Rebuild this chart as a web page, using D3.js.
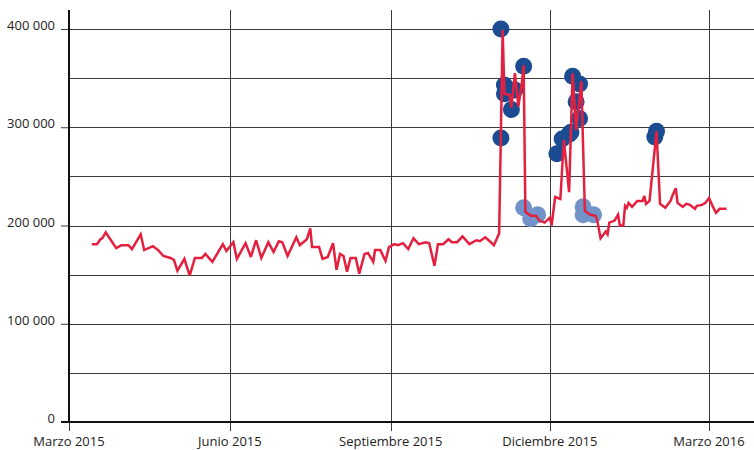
<!DOCTYPE html>
<html>
<head>
<meta charset="utf-8">
<script src="https://cdn.jsdelivr.net/npm/d3@7"></script>
<style>
  body { margin: 0; background: #fff; }
  svg { display: block; }
  .lbl { font-family: "Open Sans", sans-serif; font-size: 13px; fill: #222; }
</style>
</head>
<body>
<script>
// serie principal (fecha, valor)
const dates = ["2015-03-14","2015-03-17","2015-03-19","2015-03-20","2015-03-22","2015-03-25","2015-03-28","2015-03-31",
  "2015-04-04","2015-04-06","2015-04-11","2015-04-13","2015-04-18","2015-04-21","2015-04-24","2015-04-28","2015-04-30",
  "2015-05-02","2015-05-06","2015-05-09","2015-05-12","2015-05-16","2015-05-18","2015-05-22","2015-05-28","2015-05-30",
  "2015-06-03","2015-06-05","2015-06-10","2015-06-13","2015-06-16","2015-06-19","2015-06-23","2015-06-26","2015-06-29",
  "2015-07-01","2015-07-04","2015-07-09","2015-07-11","2015-07-15","2015-07-17","2015-07-18","2015-07-22","2015-07-24",
  "2015-07-27","2015-07-30","2015-08-01","2015-08-03","2015-08-05","2015-08-07","2015-08-09","2015-08-12","2015-08-14",
  "2015-08-17","2015-08-19","2015-08-22","2015-08-23","2015-08-26","2015-08-29","2015-08-31","2015-09-03","2015-09-05",
  "2015-09-08","2015-09-11","2015-09-14","2015-09-17","2015-09-21","2015-09-23","2015-09-26","2015-09-28","2015-10-01",
  "2015-10-04","2015-10-06","2015-10-09","2015-10-12","2015-10-16","2015-10-20","2015-10-22","2015-10-25","2015-10-27",
  "2015-10-30","2015-11-02","2015-11-04","2015-11-05","2015-11-08","2015-11-09","2015-11-11","2015-11-13","2015-11-15",
  "2015-11-16","2015-11-17","2015-11-20","2015-11-23","2015-11-25","2015-11-28","2015-12-01","2015-12-02","2015-12-04",
  "2015-12-07","2015-12-09","2015-12-12","2015-12-14","2015-12-16","2015-12-19","2015-12-21","2015-12-24","2015-12-27",
  "2015-12-28","2015-12-30","2016-01-02","2016-01-03","2016-01-04","2016-01-07","2016-01-09","2016-01-10","2016-01-12",
  "2016-01-13","2016-01-14","2016-01-15","2016-01-17","2016-01-20","2016-01-23","2016-01-24","2016-01-25","2016-01-27",
  "2016-01-31","2016-02-02","2016-02-05","2016-02-08","2016-02-09","2016-02-11","2016-02-12","2016-02-15","2016-02-17",
  "2016-02-19","2016-02-22","2016-02-23","2016-02-26","2016-02-28","2016-03-01","2016-03-03","2016-03-05","2016-03-07",
  "2016-03-11"];
const values = [181000,181000,186000,187000,193000,185000,177000,180000,
  180000,176000,191000,175000,179000,175000,169000,167000,165000,
  154000,166000,149000,167000,167000,171000,163000,181000,174000,
  183000,166000,182000,168000,185000,167000,183000,173000,184000,
  183000,169000,188000,180000,186000,197000,178000,178000,166000,
  168000,182000,155000,171000,169000,153000,167000,167000,151000,
  171000,172000,163000,175000,175000,164000,178000,181000,180000,
  182000,176000,187000,181000,183000,182000,159000,181000,181000,
  186000,183000,183000,189000,181000,185000,184000,188000,185000,
  180000,192000,399000,334000,333000,320000,355000,321000,346000,
  363000,214000,210000,210000,205000,203000,208000,200000,229000,
  227000,287000,234000,355000,297000,347000,215000,211000,210000,
  206000,187000,194000,191000,203000,205000,211000,200000,200000,
  220000,218000,223000,219000,225000,225000,230000,222000,225000,
  296000,222000,218000,225000,230000,238000,223000,219000,222000,
  221000,217000,220000,221000,223000,228000,220000,213000,217000,
  217000];

// puntos destacados
const darkDates = ["2015-11-03","2015-11-03","2015-11-05","2015-11-05","2015-11-09","2015-11-11","2015-11-16",
  "2015-12-05","2015-12-08","2015-12-12","2015-12-13","2015-12-14","2015-12-16","2015-12-18","2015-12-18",
  "2016-01-30","2016-01-31"];
const darkValues = [289000,400000,343000,334000,318000,338000,362000,
  273000,288000,293000,295000,352000,326000,344000,309000,
  290000,296000];
const lightDates = ["2015-11-16","2015-11-20","2015-11-24","2015-12-20","2015-12-20","2015-12-26"];
const lightValues = [218000,207000,211000,219000,211000,211000];

const yTicks = [0,100000,200000,300000,400000];
const yGrid = [0,50000,100000,150000,200000,250000,300000,350000,400000];
const xTickDates = ["2015-03-01","2015-06-01","2015-09-01","2015-12-01","2016-03-01"];
const xTickLabels = ["Marzo 2015","Junio 2015","Septiembre 2015","Diciembre 2015","Marzo 2016"];

const w = 754, h = 450,
      padL = 69, padT = 10, axisY = 422, xEnd = 709;

const parse = d3.timeParse("%Y-%m-%d");
const fmt = d3.formatLocale({decimal: ",", thousands: " ", grouping: [3], currency: ["", ""]}).format(",d");

const svg = d3.select("body").append("svg")
  .attr("width", w)
  .attr("height", h);

const x = d3.scaleTime()
  .domain([parse(xTickDates[0]), parse(xTickDates[4])])
  .range([padL, xEnd]);

const y = d3.scaleLinear()
  .domain([0, 400000])
  .range([axisY, 29]);

//grid horizontal
svg.append("g").selectAll("line")
  .data(yGrid)
  .enter().append("line")
  .attr("x1", padL).attr("x2", w)
  .attr("y1", d => Math.round(y(d)) + 0.5).attr("y2", d => Math.round(y(d)) + 0.5)
  .attr("stroke", "#3a3a3a")
  .attr("stroke-width", 1);

//grid vertical
svg.append("g").selectAll("line")
  .data(xTickDates)
  .enter().append("line")
  .attr("x1", d => Math.round(x(parse(d))) + 0.5).attr("x2", d => Math.round(x(parse(d))) + 0.5)
  .attr("y1", padT).attr("y2", axisY + 9)
  .attr("stroke", "#3a3a3a")
  .attr("stroke-width", 1);

//eje y
const yAxis = d3.axisLeft(y)
  .tickValues(yTicks)
  .tickSize(8)
  .tickPadding(6)
  .tickFormat(fmt);

const gy = svg.append("g")
  .attr("transform", "translate(" + padL + ",0)")
  .call(yAxis);
gy.select(".domain").remove();
gy.selectAll(".tick line").attr("stroke", "#3a3a3a");
gy.selectAll(".tick text").attr("class", "lbl").attr("dy", "0.05em");

svg.append("line")
  .attr("x1", padL).attr("x2", padL)
  .attr("y1", padT).attr("y2", axisY + 1)
  .attr("stroke", "#111")
  .attr("stroke-width", 2);

//eje x
svg.append("line")
  .attr("x1", padL - 8).attr("x2", w)
  .attr("y1", axisY).attr("y2", axisY)
  .attr("stroke", "#111")
  .attr("stroke-width", 2);

svg.append("g").selectAll("text")
  .data(xTickDates)
  .enter().append("text")
  .attr("class", "lbl")
  .attr("x", d => x(parse(d)))
  .attr("y", 446)
  .attr("text-anchor", "middle")
  .text((d, i) => xTickLabels[i]);

//puntos
svg.append("g").selectAll("circle")
  .data(lightDates)
  .enter().append("circle")
  .attr("cx", d => x(parse(d)))
  .attr("cy", (d, i) => y(lightValues[i]))
  .attr("r", 8.5)
  .attr("fill", "#7193c9");

svg.append("g").selectAll("circle")
  .data(darkDates)
  .enter().append("circle")
  .attr("cx", d => x(parse(d)))
  .attr("cy", (d, i) => y(darkValues[i]))
  .attr("r", 8.5)
  .attr("fill", "#1b4c92");

//linea
const line = d3.line()
  .x(d => x(parse(d.date)))
  .y(d => y(d.value));

svg.append("path")
  .datum(dates.map((d, i) => ({date: d, value: values[i]})))
  .attr("d", line)
  .attr("fill", "none")
  .attr("stroke", "#e5203f")
  .attr("stroke-width", 2.5)
  .attr("stroke-linejoin", "miter")
  .attr("stroke-miterlimit", 3);
</script>
</body>
</html>
